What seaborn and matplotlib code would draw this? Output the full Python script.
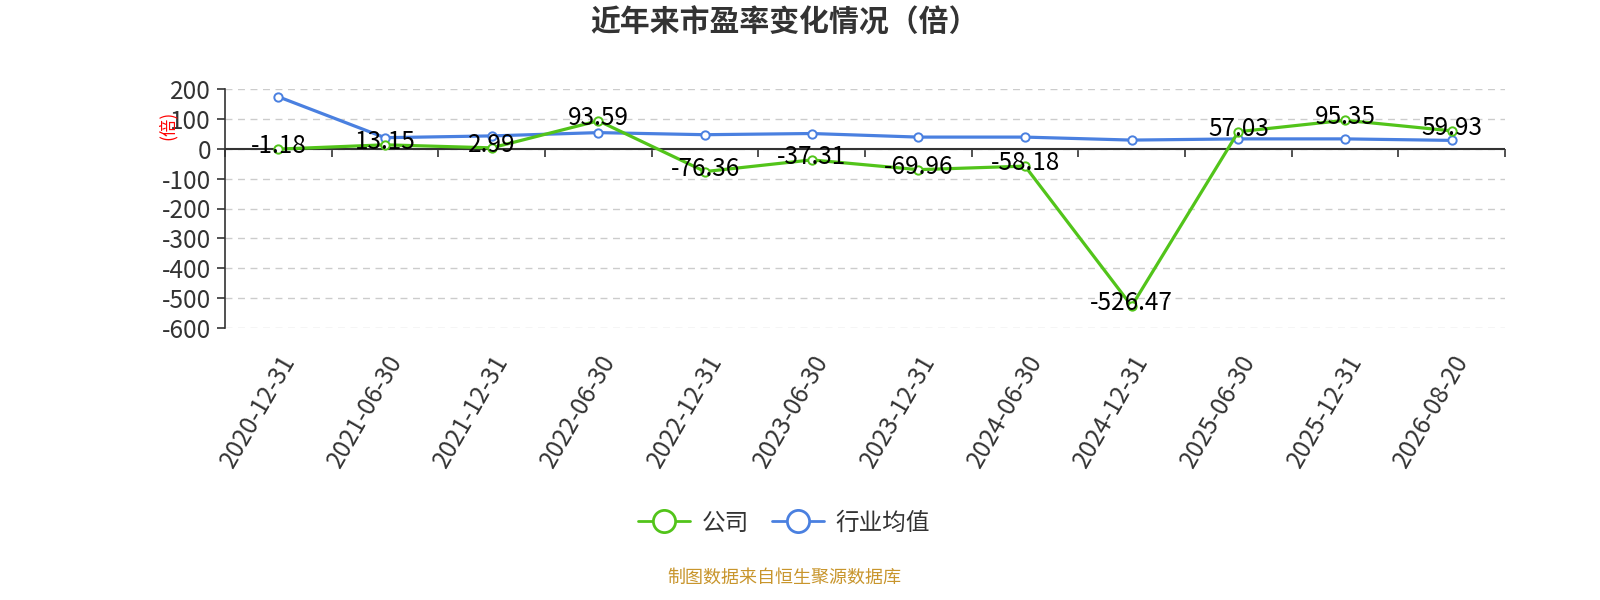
import matplotlib
matplotlib.use("Agg")
import matplotlib.pyplot as plt
import seaborn as sns
import pandas as pd
import numpy as np
from matplotlib.lines import Line2D

dates = ["2020-12-31", "2021-06-30", "2021-12-31", "2022-06-30", "2022-12-31", "2023-06-30",
         "2023-12-31", "2024-06-30", "2024-12-31", "2025-06-30", "2025-12-31", "2026-08-20"]
company = [-1.18, 13.15, 2.99, 93.59, -76.36, -37.31, -69.96, -58.18, -526.47, 57.03, 95.35, 59.93]
industry = [174, 37, 43, 54, 47, 51, 39, 39, 29, 33, 33, 28]
yticks = [200, 100, 0, -100, -200, -300, -400, -500, -600]

sns.set_theme(style="white")
plt.rcParams['font.family'] = ['Noto Sans CJK SC', 'DejaVu Sans']
plt.rcParams['axes.unicode_minus'] = False

green = "#52c41a"
blue = "#4a80e0"
txt = "#333333"

fig = plt.figure(figsize=(16, 6), dpi=100)
ax = fig.add_axes([225/1600, 1-328/600, 1280/1600, 239/600])

pos = np.arange(len(dates))
df = pd.DataFrame({"pos": pos, "company": company, "industry": industry})

for col, c in [("industry", blue), ("company", green)]:
    sns.lineplot(data=df, x="pos", y=col, ax=ax, color=c, linewidth=2.3,
                 marker="o", markersize=6, markerfacecolor="white",
                 markeredgecolor=c, markeredgewidth=1.4, zorder=3 if col == "company" else 2)

for x, v in zip(pos, company):
    ax.annotate(f"{v:.2f}", (x, v), xytext=(0, 2), textcoords="offset points",
                ha="center", va="center", fontsize=17.5, color="black", zorder=5)

ax.set_xlim(-0.5, len(dates) - 0.5)
ax.set_ylim(-600, 200)
ax.set_yticks(yticks)
ax.set_yticklabels([str(t) for t in yticks], fontsize=17.5, color=txt)
ax.yaxis.grid(True, linestyle=(0, (5, 4)), color="#cccccc", linewidth=1)
ax.set_axisbelow(True)

for s in ["top", "right", "bottom"]:
    ax.spines[s].set_visible(False)
ax.spines["left"].set_color(txt)
ax.spines["left"].set_linewidth(1.2)
ax.tick_params(axis="y", which="both", left=True, length=6, width=1.2, color=txt, pad=4)

ax.set_xticks(pos)
ax.set_xticklabels(dates, rotation=60, ha="right", rotation_mode="anchor", fontsize=17.5, color=txt)
ax.tick_params(axis="x", bottom=False, length=0, pad=16)

# axis line at zero with boundary ticks
ax.axhline(0, color=txt, linewidth=1.5, zorder=1)
sec = ax.secondary_xaxis(0, transform=ax.transData)
sec.set_xticks(np.arange(len(dates) + 1) - 0.5)
sec.set_xticklabels([])
sec.tick_params(axis="x", direction="out", length=6, width=1.2, color=txt)
sec.spines["bottom"].set_visible(False)

ax.set_xlabel("")
ax.set_ylabel("(倍)", color="red", fontsize=12.5)
ax.yaxis.set_label_coords(-0.038, 0.849)

fig.text(0.49, 0.962, "近年来市盈率变化情况（倍）", ha="center", va="center",
         fontsize=21.5, fontweight="bold", color=txt)

handles = [Line2D([], [], color=green, linewidth=2, marker="o", markersize=16,
                  markerfacecolor="white", markeredgewidth=2, markeredgecolor=green),
           Line2D([], [], color=blue, linewidth=2, marker="o", markersize=16,
                  markerfacecolor="white", markeredgewidth=2, markeredgecolor=blue)]
fig.legend(handles, ["公司", "行业均值"], loc="center", bbox_to_anchor=(0.49, 0.128),
           ncol=2, frameon=False, fontsize=17, handlelength=2.2, columnspacing=1.0,
           handletextpad=0.5, labelcolor=txt)

fig.text(0.49, 0.038, "制图数据来自恒生聚源数据库", ha="center", va="center",
         fontsize=13, color="#c8952c")

fig.savefig("out.png", dpi=100)
